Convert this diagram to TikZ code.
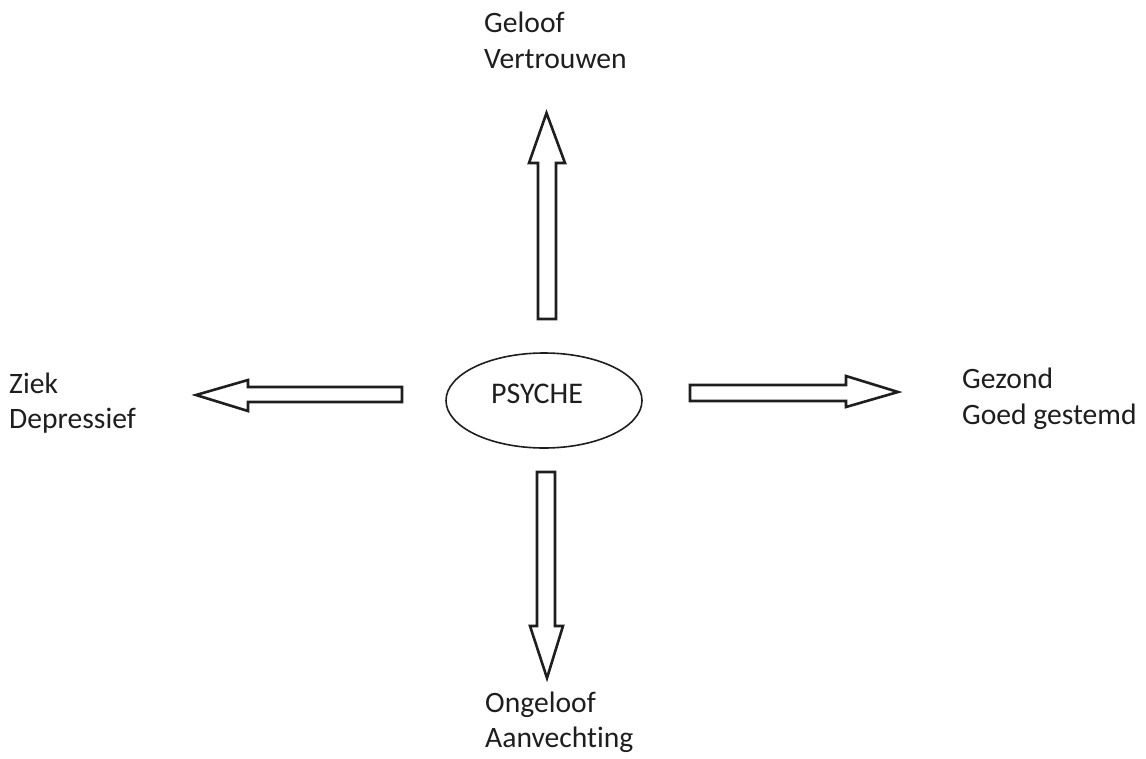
\documentclass[tikz,border=0pt]{standalone}
\usepackage{fontspec}
\setmainfont{Carlito}[Ligatures={NoCommon,NoRare}]
\usetikzlibrary{shapes.geometric}
\definecolor{ink}{HTML}{1E1E1E}
\begin{document}
\begin{tikzpicture}[x=1pt,y=-1pt,
  lbl/.style={anchor=base west,inner sep=0pt,text=ink,font=\fontsize{29.6}{34}\selectfont},
  blockarrow/.style={draw=ink,line width=2.6pt,line join=miter,fill=white}]
\useasboundingbox (0,0) rectangle (1146,758);
% centre
\node[draw=ink,line width=1.6pt,ellipse,minimum width=196pt,minimum height=95pt,inner sep=0pt] (psyche) at (544,400.5) {};
\node[anchor=base,inner sep=0pt,text=ink,font=\fontsize{30}{34}\selectfont] (psychetxt) at (537,403) {PSYCHE};
% labels
\node[lbl] (up1) at (484,32) {Geloof};
\node[lbl] (up2) at (484,68) {Vertrouwen};
\node[lbl] (lf1) at (9,393) {Ziek};
\node[lbl] (lf2) at (9,428) {Depressief};
\node[lbl] (rt1) at (962,388) {Gezond};
\node[lbl] (rt2) at (962,424) {Goed gestemd};
\node[lbl] (dn1) at (485,712) {Ongeloof};
\node[lbl] (dn2) at (485,747) {Aanvechting};
% block arrows
\draw[blockarrow] (538,319) -- (538,163) -- (529,163) -- (546.5,113) -- (565,163) -- (556,163) -- (556,319) -- cycle;
\draw[blockarrow] (402,387) -- (248,387) -- (248,380) -- (196,395) -- (248,411) -- (248,402) -- (402,402) -- cycle;
\draw[blockarrow] (690,385) -- (846,385) -- (846,376) -- (898,392) -- (846,407) -- (846,401) -- (690,401) -- cycle;
\draw[blockarrow] (537,472) -- (555,472) -- (555,626) -- (563,626) -- (547,678) -- (530,626) -- (537,626) -- cycle;
\end{tikzpicture}
\end{document}
